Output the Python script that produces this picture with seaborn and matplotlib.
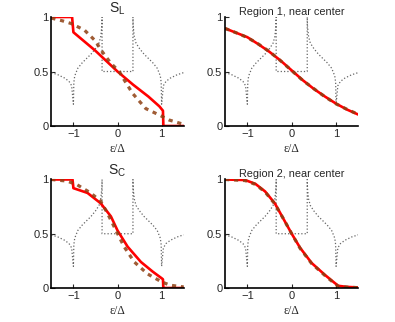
import numpy as np
import pandas as pd
import matplotlib
matplotlib.use("Agg")
import matplotlib.pyplot as plt
import seaborn as sns

# dotted reference curve (same in every panel)
dos_x = [-1.5, -1.35, -1.2, -1.1, -1.04, -1.0, -0.99, -0.97, -0.9, -0.8, -0.7, -0.6,
         -0.5, -0.42, -0.38, -0.355, -0.35, -0.35, 0.35, 0.35, 0.355, 0.38, 0.42, 0.5,
         0.6, 0.7, 0.8, 0.9, 0.97, 0.99, 1.0, 1.04, 1.1, 1.2, 1.35, 1.5]
dos_y = [0.49, 0.47, 0.44, 0.41, 0.37, 0.20, 0.40, 0.46, 0.53, 0.58, 0.62, 0.66,
         0.71, 0.76, 0.82, 0.92, 1.0, 0.5, 0.5, 1.0, 0.92, 0.82, 0.76, 0.71,
         0.66, 0.62, 0.58, 0.53, 0.46, 0.40, 0.20, 0.37, 0.41, 0.44, 0.47, 0.49]

# S_L panel
sl_red_x = [-1.5, -1.03, -1.0, -0.5, 0.0, 0.35, 0.7, 0.95, 1.03, 1.04, 1.5]
sl_red_y = [1.0, 1.0, 0.86, 0.69, 0.5, 0.38, 0.27, 0.18, 0.14, 0.0, 0.0]
sl_dash_x = [-1.5, -1.25, -1.05, -0.75, -0.5, -0.38, -0.15, 0.04, 0.11, 0.34, 0.64, 0.95, 1.17, 1.5]
sl_dash_y = [0.99, 0.965, 0.94, 0.88, 0.78, 0.70, 0.575, 0.5, 0.45, 0.30, 0.16, 0.10, 0.055, 0.015]

# Region 1 panel
r1_red_x = [-1.5, -1.25, -1.0, -0.75, -0.5, -0.25, 0.0, 0.25, 0.5, 0.75, 1.0, 1.25, 1.5]
r1_red_y = [0.895, 0.855, 0.815, 0.75, 0.68, 0.60, 0.51, 0.42, 0.34, 0.27, 0.205, 0.15, 0.105]
r1_dash_y = [0.895, 0.855, 0.812, 0.752, 0.682, 0.598, 0.508, 0.418, 0.342, 0.268, 0.203, 0.152, 0.107]

# S_C panel
sc_red_x = [-1.5, -1.02, -1.0, -0.68, -0.38, -0.15, 0.0, 0.23, 0.53, 0.8, 1.0, 1.03, 1.04, 1.5]
sc_red_y = [1.0, 1.0, 0.92, 0.876, 0.78, 0.66, 0.53, 0.38, 0.24, 0.15, 0.09, 0.08, 0.0, 0.0]
sc_dash_x = [-1.5, -1.14, -0.91, -0.61, -0.38, -0.23, -0.04, 0.15, 0.38, 0.68, 1.0, 1.2, 1.5]
sc_dash_y = [1.0, 0.985, 0.95, 0.876, 0.80, 0.69, 0.535, 0.38, 0.24, 0.13, 0.056, 0.025, 0.01]

# Region 2 panel
r2_red_x = [-1.5, -1.05, -0.82, -0.6, -0.38, -0.19, 0.0, 0.19, 0.45, 0.75, 0.97, 1.05, 1.25, 1.5]
r2_red_y = [1.0, 0.995, 0.96, 0.89, 0.78, 0.64, 0.50, 0.37, 0.23, 0.12, 0.046, 0.02, 0.01, 0.005]
r2_dash_y = [1.0, 0.99, 0.955, 0.885, 0.775, 0.64, 0.50, 0.365, 0.225, 0.115, 0.04, 0.015, 0.008, 0.003]

titles = [r"S$_\mathregular{L}$", "Region 1, near center", r"S$_\mathregular{C}$", "Region 2, near center"]
title_sizes = [10, 7.8, 10, 7.8]

sns.set_style("ticks")
plt.rcParams["font.family"] = ["Liberation Sans", "DejaVu Sans"]
plt.rcParams["mathtext.fontset"] = "custom"
plt.rcParams["mathtext.rm"] = "Liberation Sans"

RED = "#ff0000"
BROWN = "#8e3f12"

panels = [
    (sl_red_x, sl_red_y, sl_dash_x, sl_dash_y),
    (r1_red_x, r1_red_y, r1_red_x, r1_dash_y),
    (sc_red_x, sc_red_y, sc_dash_x, sc_dash_y),
    (r2_red_x, r2_red_y, r2_red_x, r2_dash_y),
]
positions = [
    [0.130, 0.6087, 0.335, 0.3385],
    [0.570, 0.6087, 0.337, 0.3385],
    [0.130, 0.1056, 0.335, 0.337],
    [0.570, 0.1056, 0.337, 0.337],
]

fig = plt.figure(figsize=(3.95, 3.22), dpi=100)
for (rx, ry, dx, dy), pos, title, tsize in zip(panels, positions, titles, title_sizes):
    ax = fig.add_axes(pos)
    sns.lineplot(x=dos_x, y=dos_y, ax=ax, sort=False, estimator=None,
                 color="0.4", linestyle=":", linewidth=0.9)
    sns.lineplot(x=rx, y=ry, ax=ax, sort=False, estimator=None,
                 color=RED, linewidth=1.9)
    sns.lineplot(x=dx, y=dy, ax=ax, sort=False, estimator=None,
                 color=BROWN, linestyle=(0, (1.3, 1.5)), linewidth=2.3, alpha=0.85)
    ax.set_xlim(-1.5, 1.5)
    ax.set_ylim(0, 1)
    ax.set_xticks([-1, 0, 1])
    ax.set_yticks([0, 0.5, 1])
    ax.set_yticklabels(["0", "0.5", "1"])
    ax.tick_params(direction="in", length=3, width=0.8, labelsize=8, pad=2)
    sns.despine(ax=ax)
    for s in ["left", "bottom"]:
        ax.spines[s].set_linewidth(1.2)
        ax.spines[s].set_color("black")
    ax.set_title(title, fontsize=tsize, pad=1)
    ax.set_xlabel("ε/Δ", fontsize=8.5, family=["Liberation Serif", "DejaVu Serif"],
                  labelpad=3)

fig.savefig("out.png", dpi=100)
